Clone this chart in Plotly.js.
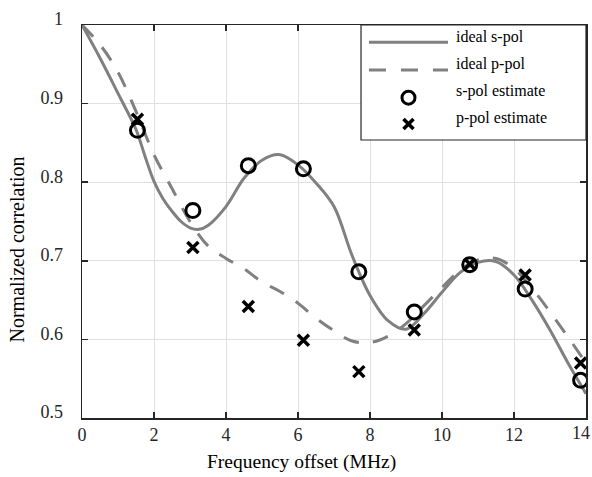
<!DOCTYPE html>
<html>
<head>
<meta charset="utf-8">
<script src="https://cdn.plot.ly/plotly-3.0.1.min.js"></script>
<style>html,body{margin:0;padding:0;background:#fff;}#chart{width:592px;height:477px;}</style>
</head>
<body>
<div id="chart"></div>
<script>
// Ideal curves
const freqS = [0,0.5,1,1.5,1.75,2,2.25,2.5,2.75,3,3.25,3.5,4,4.5,5,5.5,6,6.5,7,7.5,8,8.5,9,9.5,10,10.5,11,11.5,12,12.5,13,13.5,14];
const idealS = [1.000,0.958,0.913,0.867,0.833,0.801,0.779,0.763,0.750,0.742,0.740,0.745,0.769,0.805,0.828,0.835,0.822,0.799,0.769,0.707,0.656,0.624,0.613,0.633,0.660,0.685,0.698,0.699,0.682,0.650,0.612,0.570,0.531];
const freqP = [0,0.5,1,1.5,2,2.5,3,3.5,4,4.5,5,5.5,6,6.5,7,7.5,8,8.5,9,9.5,10,10.5,11,11.5,12,12.5,13,13.5,14];
const idealP = [1.000,0.975,0.940,0.890,0.835,0.792,0.750,0.719,0.703,0.690,0.673,0.661,0.646,0.627,0.611,0.598,0.596,0.604,0.620,0.643,0.666,0.688,0.701,0.703,0.690,0.665,0.635,0.603,0.570];
// Estimates
const freqEst = [1.54,3.08,4.62,6.15,7.69,9.23,10.77,12.31,13.85];
const estS = [0.866,0.764,0.821,0.817,0.686,0.635,0.695,0.664,0.548];
const estP = [0.880,0.717,0.642,0.599,0.559,0.612,0.696,0.682,0.570];
// Ticks and text (last x label is drawn separately, nudged inward as in the original)
const xTickVals = [0,2,4,6,8,10,12,14];
const xTickText = ['0','2','4','6','8','10','12',''];
const xLastTick = 14, xLastTickText = '14';
const yTickVals = [0.5,0.6,0.7,0.8,0.9,1];
const yTickText = ['0.5','0.6','0.7','0.8','0.9','1'];
const legendLabels = ['ideal s-pol','ideal p-pol','s-pol estimate','p-pol estimate'];
const xTitle = 'Frequency offset (MHz)';
const yTitle = 'Normalized correlation';

const FONT = 'Liberation Serif, Times New Roman, serif';
const GRAY = 'rgb(128,128,128)';
const AX = '#262626';

const traces = [
  {x: freqS, y: idealS, type: 'scatter', mode: 'lines', name: legendLabels[0],
   line: {color: GRAY, width: 3, shape: 'spline', smoothing: 1}},
  {x: freqP, y: idealP, type: 'scatter', mode: 'lines', name: legendLabels[1],
   line: {color: GRAY, width: 3, shape: 'spline', smoothing: 1, dash: '16px,14px'}},
  {x: freqEst, y: estS, type: 'scatter', mode: 'markers', name: legendLabels[2],
   marker: {symbol: 'circle-open', size: 14, color: '#000', line: {width: 3, color: '#000'}}},
  {x: freqEst, y: estP, type: 'scatter', mode: 'markers', name: legendLabels[3],
   marker: {symbol: 'x-thin-open', size: 11, color: '#000', line: {width: 3.5, color: '#000'}}}
];

// custom legend geometry (paper coords)
const lgX0 = 0.5536, lgX1 = 1, lgY0 = 0.7074, lgY1 = 1;
const sampX0 = 0.5694, sampX1 = 0.7262, markX = 0.6478, textX = 0.738;
const rowLineY = [0.956, 0.8855, 0.815, 0.748];
const rowTextY = [0.9687, 0.900, 0.832, 0.7634];

const shapes = [
  {type: 'rect', xref: 'paper', yref: 'paper', x0: lgX0, x1: lgX1, y0: lgY0, y1: lgY1,
   fillcolor: '#fff', line: {color: AX, width: 1.2}, layer: 'above'},
  {type: 'line', xref: 'paper', yref: 'paper', x0: sampX0, x1: sampX1, y0: rowLineY[0], y1: rowLineY[0],
   line: {color: GRAY, width: 3}, layer: 'above'},
  {type: 'line', xref: 'paper', yref: 'paper', x0: sampX0, x1: sampX1, y0: rowLineY[1], y1: rowLineY[1],
   line: {color: GRAY, width: 3, dash: '17px,15px'}, layer: 'above'},
  {type: 'circle', xref: 'paper', yref: 'paper', xsizemode: 'pixel', ysizemode: 'pixel',
   xanchor: markX, yanchor: rowLineY[2], x0: -6.5, x1: 6.5, y0: -6.5, y1: 6.5,
   line: {color: '#000', width: 3}, layer: 'above'},
  {type: 'line', xref: 'paper', yref: 'paper', xsizemode: 'pixel', ysizemode: 'pixel',
   xanchor: markX, yanchor: rowLineY[3], x0: -5, x1: 5, y0: -5, y1: 5,
   line: {color: '#000', width: 3.5}, layer: 'above'},
  {type: 'line', xref: 'paper', yref: 'paper', xsizemode: 'pixel', ysizemode: 'pixel',
   xanchor: markX, yanchor: rowLineY[3], x0: -5, x1: 5, y0: 5, y1: -5,
   line: {color: '#000', width: 3.5}, layer: 'above'}
];

const annotations = legendLabels.map((t, i) => ({
  text: t, xref: 'paper', yref: 'paper', x: textX, y: rowTextY[i],
  xanchor: 'left', yanchor: 'middle', showarrow: false,
  font: {family: FONT, size: 16, color: '#000'}
}));
annotations.push({text: xTitle, xref: 'paper', yref: 'paper', x: 0.4365, y: -0.112,
  xanchor: 'center', yanchor: 'middle', showarrow: false, font: {family: FONT, size: 19.5, color: '#000'}});
annotations.push({text: yTitle, xref: 'paper', yref: 'paper', x: -0.128, y: 0.43, textangle: -90,
  xanchor: 'center', yanchor: 'middle', showarrow: false, font: {family: FONT, size: 20, color: '#000'}});
annotations.push({text: xLastTickText, xref: 'x', yref: 'paper', x: xLastTick, y: -0.038, xshift: -5,
  xanchor: 'center', yanchor: 'middle', showarrow: false, font: {family: FONT, size: 18, color: AX}});

const axisCommon = {
  showline: true, linecolor: AX, linewidth: 1.5, mirror: 'ticks',
  ticks: 'inside', ticklen: 6, tickwidth: 1.5, tickcolor: AX,
  showgrid: true, gridcolor: '#e0e0e0', gridwidth: 1, zeroline: false,
  tickfont: {family: FONT, size: 18, color: AX}, tickmode: 'array'
};

const layout = {
  width: 592, height: 477,
  margin: {l: 82, r: 6, t: 25, b: 59},
  paper_bgcolor: '#fff', plot_bgcolor: '#fff',
  showlegend: false,
  xaxis: Object.assign({}, axisCommon, {range: [0, 14], tickvals: xTickVals, ticktext: xTickText, ticklabelstandoff: 0, ticklabeloverflow: 'allow'}),
  yaxis: Object.assign({}, axisCommon, {range: [0.5, 1], tickvals: yTickVals, ticktext: yTickText, ticklabelstandoff: 14, ticklabelshift: -6, ticklabeloverflow: 'allow'}),
  shapes: shapes,
  annotations: annotations
};

Plotly.newPlot('chart', traces, layout, {displayModeBar: false, staticPlot: true});
</script>
</body>
</html>
